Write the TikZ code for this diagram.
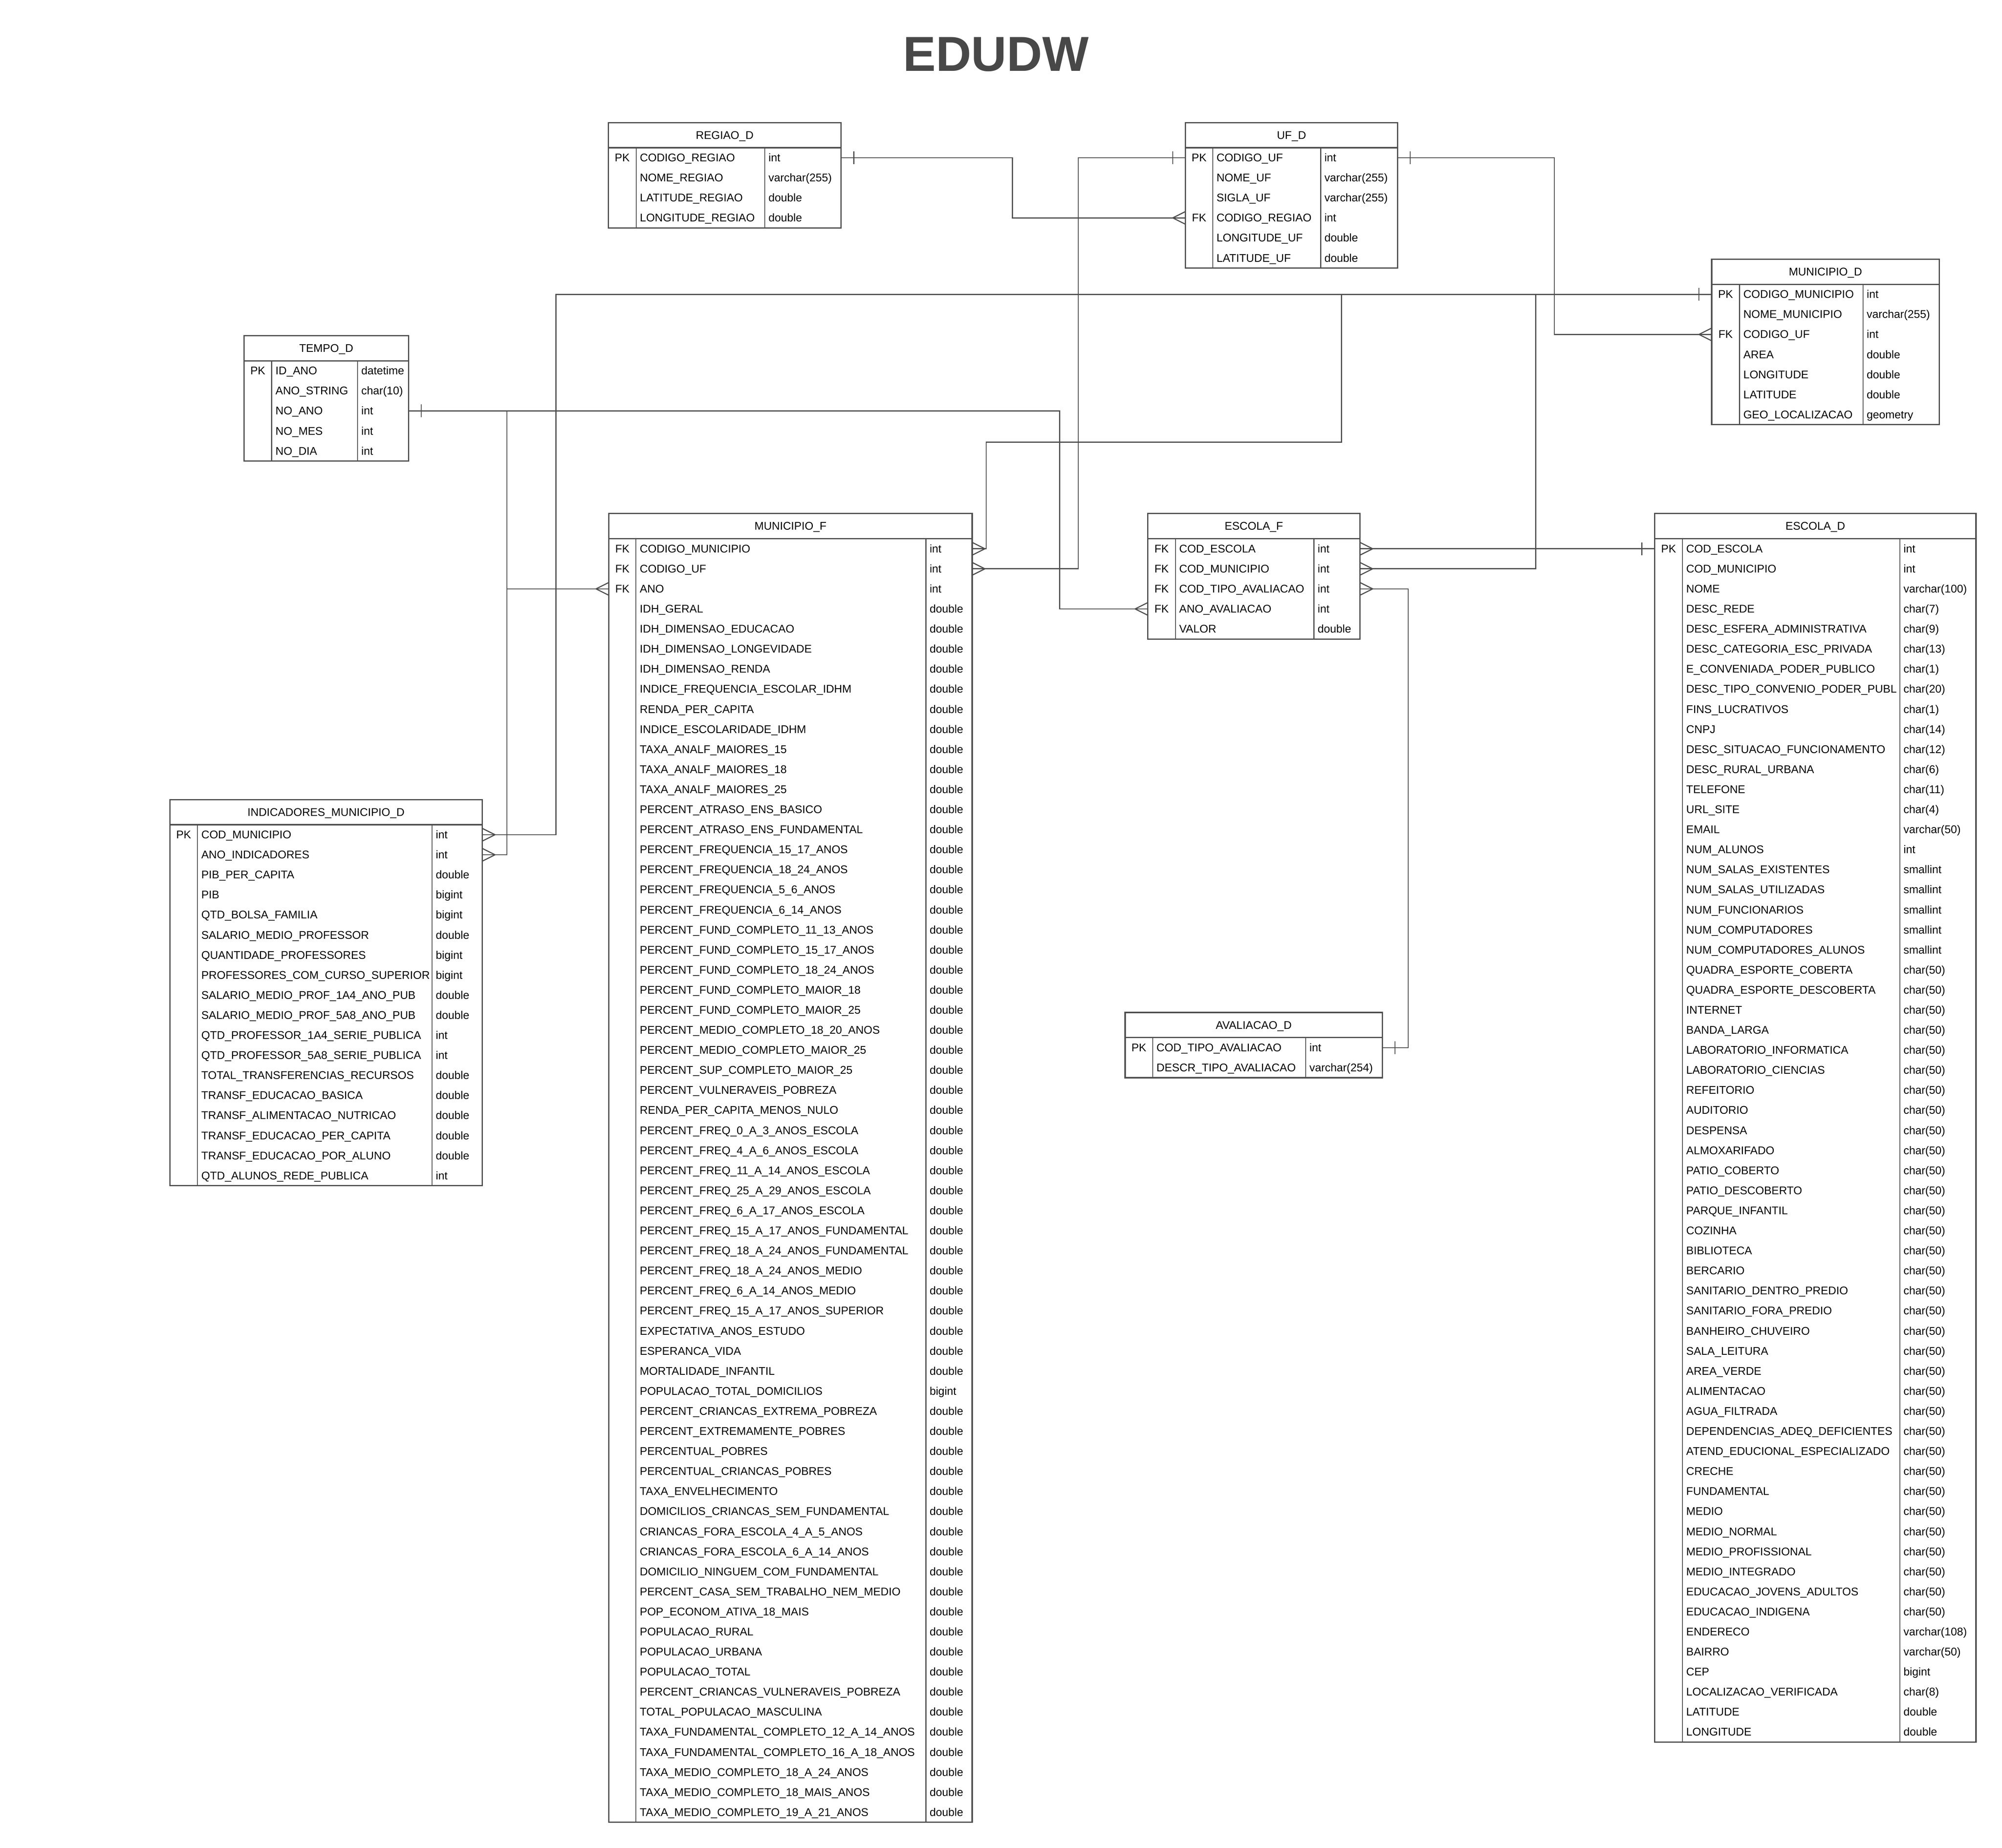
\documentclass[tikz,border=0pt]{standalone}
\usepackage{fontspec}
\setmainfont{Liberation Sans}
\definecolor{ln}{HTML}{4D4D4D}
\definecolor{ttl}{HTML}{484848}
\newcommand{\hh}{19.7}
\newcommand{\rr}{15.71}
\tikzset{
  boxline/.style={draw=ln, line width=1pt},
  divline/.style={draw=ln, line width=0.7pt},
  conn/.style={draw=ln, line width=0.85pt},
  fld/.style={inner sep=0pt, font=\fontsize{8.75}{10}\selectfont, text=black},
  ttlstyle/.style={inner sep=0pt, font=\fontsize{38.5}{40}\selectfont\bfseries, text=ttl},
}
% #1 id, #2 x0, #3 y0, #4 d1, #5 d2, #6 x1, #7 nrows, #8 title, #9 rows
\newcommand{\ertable}[9]{%
  \pgfmathsetmacro\ybot{#3+\hh+#7*\rr}%
  \pgfmathsetmacro\yhd{#3+\hh}%
  \fill[white] (#2,#3) rectangle (#6,\ybot);
  \draw[divline] (#4,\yhd) -- (#4,\ybot);
  \draw[divline] (#5,\yhd) -- (#5,\ybot);
  \draw[boxline] (#2,#3) rectangle (#6,\ybot);
  \draw[boxline] (#2,\yhd) -- (#6,\yhd);
  \node[fld, anchor=base] (#1-title) at ({(#2+#6)/2},{#3+\hh/2+3}) {#8};
  \foreach \fk/\fn/\ft [count=\ri] in {#9} {
    \pgfmathsetmacro\yc{#3+\hh+(\ri-0.5)*\rr}
    \node[fld, anchor=base] (#1-k\ri) at ({(#2+#4)/2},\yc+3) {\fk};
    \node[fld, anchor=base west] (#1-n\ri) at (#4+2.8,\yc+3) {\fn};
    \node[fld, anchor=base west] (#1-t\ri) at (#5+2.7,\yc+3) {\ft};
    \coordinate (#1-\ri-w) at (#2,\yc);
    \coordinate (#1-\ri-e) at (#6,\yc);
  }
}
\newcommand{\ercrow}[2]{\draw[conn] ([shift={(0,-5)}]#1) -- ([shift={(#2*10,0)}]#1) -- ([shift={(0,5)}]#1);}
\newcommand{\erbar}[2]{\draw[conn] ([shift={(#2*10,-5)}]#1) -- ([shift={(#2*10,5)}]#1);}
\begin{document}
\catcode`\_=12
\begin{tikzpicture}[x=1pt,y=-1pt]
\useasboundingbox (0,0) rectangle (1568,1447.3);
\fill[white] (0,0) rectangle (1568,1447.3);

\node[ttlstyle, anchor=base] (title) at (780,55.8) {EDUDW};

% route coordinates
\coordinate (vA) at (793,0);
\coordinate (vB) at (844.5,0);
\coordinate (vC) at (1217.4,0);
\coordinate (vD) at (435.5,0);
\coordinate (vE) at (1050.7,0);
\coordinate (hE) at (0,346.4);
\coordinate (vEE) at (772.4,0);
\coordinate (vF) at (1202.7,0);
\coordinate (vG) at (830,0);
\coordinate (vH) at (397,0);
\coordinate (vI) at (1102.9,0);

\ertable{regiao}{476.5}{96}{498.2}{599}{658.7}{4}{REGIAO_D}{%
PK/CODIGO_REGIAO/int,
/NOME_REGIAO/varchar(255),
/LATITUDE_REGIAO/double,
/LONGITUDE_REGIAO/double}

\ertable{uf}{928.5}{96}{949.8}{1034.4}{1094.5}{6}{UF_D}{%
PK/CODIGO_UF/int,
/NOME_UF/varchar(255),
/SIGLA_UF/varchar(255),
FK/CODIGO_REGIAO/int,
/LONGITUDE_UF/double,
/LATITUDE_UF/double}

\ertable{mund}{1340.6}{203}{1362.4}{1459.1}{1518.8}{7}{MUNICIPIO_D}{%
PK/CODIGO_MUNICIPIO/int,
/NOME_MUNICIPIO/varchar(255),
FK/CODIGO_UF/int,
/AREA/double,
/LONGITUDE/double,
/LATITUDE/double,
/GEO_LOCALIZACAO/geometry}

\ertable{tempo}{191.1}{262.9}{212.8}{280.1}{319.9}{5}{TEMPO_D}{%
PK/ID_ANO/datetime,
/ANO_STRING/char(10),
/NO_ANO/int,
/NO_MES/int,
/NO_DIA/int}

\ertable{munf}{476.8}{402.3}{498.1}{725.2}{761.4}{64}{MUNICIPIO_F}{%
FK/CODIGO_MUNICIPIO/int,
FK/CODIGO_UF/int,
FK/ANO/int,
/IDH_GERAL/double,
/IDH_DIMENSAO_EDUCACAO/double,
/IDH_DIMENSAO_LONGEVIDADE/double,
/IDH_DIMENSAO_RENDA/double,
/INDICE_FREQUENCIA_ESCOLAR_IDHM/double,
/RENDA_PER_CAPITA/double,
/INDICE_ESCOLARIDADE_IDHM/double,
/TAXA_ANALF_MAIORES_15/double,
/TAXA_ANALF_MAIORES_18/double,
/TAXA_ANALF_MAIORES_25/double,
/PERCENT_ATRASO_ENS_BASICO/double,
/PERCENT_ATRASO_ENS_FUNDAMENTAL/double,
/PERCENT_FREQUENCIA_15_17_ANOS/double,
/PERCENT_FREQUENCIA_18_24_ANOS/double,
/PERCENT_FREQUENCIA_5_6_ANOS/double,
/PERCENT_FREQUENCIA_6_14_ANOS/double,
/PERCENT_FUND_COMPLETO_11_13_ANOS/double,
/PERCENT_FUND_COMPLETO_15_17_ANOS/double,
/PERCENT_FUND_COMPLETO_18_24_ANOS/double,
/PERCENT_FUND_COMPLETO_MAIOR_18/double,
/PERCENT_FUND_COMPLETO_MAIOR_25/double,
/PERCENT_MEDIO_COMPLETO_18_20_ANOS/double,
/PERCENT_MEDIO_COMPLETO_MAIOR_25/double,
/PERCENT_SUP_COMPLETO_MAIOR_25/double,
/PERCENT_VULNERAVEIS_POBREZA/double,
/RENDA_PER_CAPITA_MENOS_NULO/double,
/PERCENT_FREQ_0_A_3_ANOS_ESCOLA/double,
/PERCENT_FREQ_4_A_6_ANOS_ESCOLA/double,
/PERCENT_FREQ_11_A_14_ANOS_ESCOLA/double,
/PERCENT_FREQ_25_A_29_ANOS_ESCOLA/double,
/PERCENT_FREQ_6_A_17_ANOS_ESCOLA/double,
/PERCENT_FREQ_15_A_17_ANOS_FUNDAMENTAL/double,
/PERCENT_FREQ_18_A_24_ANOS_FUNDAMENTAL/double,
/PERCENT_FREQ_18_A_24_ANOS_MEDIO/double,
/PERCENT_FREQ_6_A_14_ANOS_MEDIO/double,
/PERCENT_FREQ_15_A_17_ANOS_SUPERIOR/double,
/EXPECTATIVA_ANOS_ESTUDO/double,
/ESPERANCA_VIDA/double,
/MORTALIDADE_INFANTIL/double,
/POPULACAO_TOTAL_DOMICILIOS/bigint,
/PERCENT_CRIANCAS_EXTREMA_POBREZA/double,
/PERCENT_EXTREMAMENTE_POBRES/double,
/PERCENTUAL_POBRES/double,
/PERCENTUAL_CRIANCAS_POBRES/double,
/TAXA_ENVELHECIMENTO/double,
/DOMICILIOS_CRIANCAS_SEM_FUNDAMENTAL/double,
/CRIANCAS_FORA_ESCOLA_4_A_5_ANOS/double,
/CRIANCAS_FORA_ESCOLA_6_A_14_ANOS/double,
/DOMICILIO_NINGUEM_COM_FUNDAMENTAL/double,
/PERCENT_CASA_SEM_TRABALHO_NEM_MEDIO/double,
/POP_ECONOM_ATIVA_18_MAIS/double,
/POPULACAO_RURAL/double,
/POPULACAO_URBANA/double,
/POPULACAO_TOTAL/double,
/PERCENT_CRIANCAS_VULNERAVEIS_POBREZA/double,
/TOTAL_POPULACAO_MASCULINA/double,
/TAXA_FUNDAMENTAL_COMPLETO_12_A_14_ANOS/double,
/TAXA_FUNDAMENTAL_COMPLETO_16_A_18_ANOS/double,
/TAXA_MEDIO_COMPLETO_18_A_24_ANOS/double,
/TAXA_MEDIO_COMPLETO_18_MAIS_ANOS/double,
/TAXA_MEDIO_COMPLETO_19_A_21_ANOS/double}

\ertable{escf}{899}{402.3}{920.6}{1029.1}{1065.1}{5}{ESCOLA_F}{%
FK/COD_ESCOLA/int,
FK/COD_MUNICIPIO/int,
FK/COD_TIPO_AVALIACAO/int,
FK/ANO_AVALIACAO/int,
/VALOR/double}

\ertable{escd}{1296}{402.3}{1317.7}{1488}{1547.6}{60}{ESCOLA_D}{%
PK/COD_ESCOLA/int,
/COD_MUNICIPIO/int,
/NOME/varchar(100),
/DESC_REDE/char(7),
/DESC_ESFERA_ADMINISTRATIVA/char(9),
/DESC_CATEGORIA_ESC_PRIVADA/char(13),
/E_CONVENIADA_PODER_PUBLICO/char(1),
/DESC_TIPO_CONVENIO_PODER_PUBL/char(20),
/FINS_LUCRATIVOS/char(1),
/CNPJ/char(14),
/DESC_SITUACAO_FUNCIONAMENTO/char(12),
/DESC_RURAL_URBANA/char(6),
/TELEFONE/char(11),
/URL_SITE/char(4),
/EMAIL/varchar(50),
/NUM_ALUNOS/int,
/NUM_SALAS_EXISTENTES/smallint,
/NUM_SALAS_UTILIZADAS/smallint,
/NUM_FUNCIONARIOS/smallint,
/NUM_COMPUTADORES/smallint,
/NUM_COMPUTADORES_ALUNOS/smallint,
/QUADRA_ESPORTE_COBERTA/char(50),
/QUADRA_ESPORTE_DESCOBERTA/char(50),
/INTERNET/char(50),
/BANDA_LARGA/char(50),
/LABORATORIO_INFORMATICA/char(50),
/LABORATORIO_CIENCIAS/char(50),
/REFEITORIO/char(50),
/AUDITORIO/char(50),
/DESPENSA/char(50),
/ALMOXARIFADO/char(50),
/PATIO_COBERTO/char(50),
/PATIO_DESCOBERTO/char(50),
/PARQUE_INFANTIL/char(50),
/COZINHA/char(50),
/BIBLIOTECA/char(50),
/BERCARIO/char(50),
/SANITARIO_DENTRO_PREDIO/char(50),
/SANITARIO_FORA_PREDIO/char(50),
/BANHEIRO_CHUVEIRO/char(50),
/SALA_LEITURA/char(50),
/AREA_VERDE/char(50),
/ALIMENTACAO/char(50),
/AGUA_FILTRADA/char(50),
/DEPENDENCIAS_ADEQ_DEFICIENTES/char(50),
/ATEND_EDUCIONAL_ESPECIALIZADO/char(50),
/CRECHE/char(50),
/FUNDAMENTAL/char(50),
/MEDIO/char(50),
/MEDIO_NORMAL/char(50),
/MEDIO_PROFISSIONAL/char(50),
/MEDIO_INTEGRADO/char(50),
/EDUCACAO_JOVENS_ADULTOS/char(50),
/EDUCACAO_INDIGENA/char(50),
/ENDERECO/varchar(108),
/BAIRRO/varchar(50),
/CEP/bigint,
/LOCALIZACAO_VERIFICADA/char(8),
/LATITUDE/double,
/LONGITUDE/double}

\ertable{ind}{133}{626.3}{154.7}{338.4}{377.7}{18}{INDICADORES_MUNICIPIO_D}{%
PK/COD_MUNICIPIO/int,
/ANO_INDICADORES/int,
/PIB_PER_CAPITA/double,
/PIB/bigint,
/QTD_BOLSA_FAMILIA/bigint,
/SALARIO_MEDIO_PROFESSOR/double,
/QUANTIDADE_PROFESSORES/bigint,
/PROFESSORES_COM_CURSO_SUPERIOR/bigint,
/SALARIO_MEDIO_PROF_1A4_ANO_PUB/double,
/SALARIO_MEDIO_PROF_5A8_ANO_PUB/double,
/QTD_PROFESSOR_1A4_SERIE_PUBLICA/int,
/QTD_PROFESSOR_5A8_SERIE_PUBLICA/int,
/TOTAL_TRANSFERENCIAS_RECURSOS/double,
/TRANSF_EDUCACAO_BASICA/double,
/TRANSF_ALIMENTACAO_NUTRICAO/double,
/TRANSF_EDUCACAO_PER_CAPITA/double,
/TRANSF_EDUCACAO_POR_ALUNO/double,
/QTD_ALUNOS_REDE_PUBLICA/int}

\ertable{aval}{881.2}{793.1}{902.8}{1022.7}{1082.6}{2}{AVALIACAO_D}{%
PK/COD_TIPO_AVALIACAO/int,
/DESCR_TIPO_AVALIACAO/varchar(254)}

% connectors
\draw[conn] (regiao-1-e) -| (vA |- uf-4-w) -- (uf-4-w);
\erbar{regiao-1-e}{1} \ercrow{uf-4-w}{-1}

\draw[conn] (uf-1-w) -| (vB |- munf-2-e) -- (munf-2-e);
\erbar{uf-1-w}{-1} \ercrow{munf-2-e}{1}

\draw[conn] (uf-1-e) -| (vC |- mund-3-w) -- (mund-3-w);
\erbar{uf-1-e}{1} \ercrow{mund-3-w}{-1}

\draw[conn] (mund-1-w) -| (vD |- ind-1-e) -- (ind-1-e);
\draw[conn] (mund-1-w) -| (vE |- hE) -| (vEE |- munf-1-e) -- (munf-1-e);
\draw[conn] (mund-1-w) -| (vF |- escf-2-e) -- (escf-2-e);
\erbar{mund-1-w}{-1} \ercrow{ind-1-e}{1} \ercrow{munf-1-e}{1} \ercrow{escf-2-e}{1}

\draw[conn] (tempo-3-e) -| (vG |- escf-4-w) -- (escf-4-w);
\draw[conn] (tempo-3-e) -| (vH |- munf-3-w) -- (munf-3-w);
\draw[conn] (tempo-3-e) -| (vH |- ind-2-e) -- (ind-2-e);
\erbar{tempo-3-e}{1} \ercrow{escf-4-w}{-1} \ercrow{munf-3-w}{-1} \ercrow{ind-2-e}{1}

\draw[conn] (escd-1-w) -- (escf-1-e);
\erbar{escd-1-w}{-1} \ercrow{escf-1-e}{1}

\draw[conn] (aval-1-e) -| (vI |- escf-3-e) -- (escf-3-e);
\erbar{aval-1-e}{1} \ercrow{escf-3-e}{1}
\end{tikzpicture}
\end{document}
